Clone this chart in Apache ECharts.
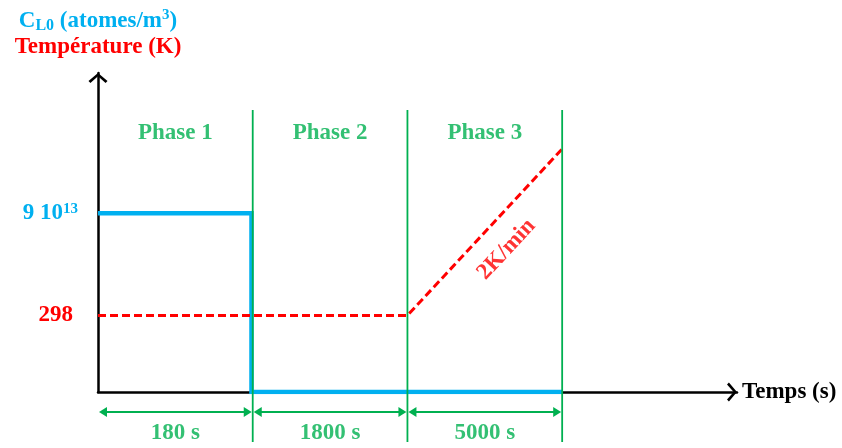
<!DOCTYPE html>
<html><head><meta charset="utf-8">
<script src="https://cdn.jsdelivr.net/npm/echarts@6/dist/echarts.min.js"></script>
<style>html,body{margin:0;padding:0;background:#fff}#c{width:842px;height:448px}</style>
</head><body><div id="c"></div>
<script>
// ---- data (schematic units) ----
const phaseNames = ['Phase 1', 'Phase 2', 'Phase 3'];
const phaseDurations = ['180 s', '1800 s', '5000 s'];
const phaseBounds = [0, 1, 2, 3];
const concentrationX = [0, 0.992, 0.992, 3];
const concentrationY = [5.6, 5.6, 0, 0];
const temperatureX = [0, 2, 3];
const temperatureY = [2.4, 2.4, 7.62];
const tickValues = [2.4, 5.6];
const tickLabels = ['298', '9 10|13'];
const rampLabel = '2K/min';
const rampLabelPoint = [2.64, 4.47];

// ---- styles / layout ----
const BLUE = '#00B0F0', RED = '#FF0000', GREEN = '#00B050';
const FF = '"Liberation Serif", "Times New Roman", serif';
const FS = 23;
const PHASE_Y = 8.12, DUR_Y = -1.29, ARROW_Y = -0.63, GUIDE_TOP = 8.84, GUIDE_BOT = -1.57;
const ARROW = 'path://M10,0 L20,8.5 L18,10.5 L10,3.5 L2,10.5 L0,8.5 Z';
const txt = (c, s) => ({color: c, fontSize: s, fontWeight: 'bold', fontFamily: FF});

const chart = echarts.init(document.getElementById('c'), null, {renderer: 'canvas'});
const axisLine = {show: true, onZero: false, symbol: ['none', ARROW], symbolSize: [19, 10], symbolOffset: [0, -5],
  lineStyle: {color: '#000', width: 2.5}};

const option = {
  animation: false,
  backgroundColor: '#fff',
  grid: {left: 98, top: 73, width: 639, height: 319},
  xAxis: {type: 'value', min: 0, max: 4.13, axisLine,
    axisTick: {show: false}, axisLabel: {show: false}, splitLine: {show: false},
    name: 'Temps (s)', nameLocation: 'end', nameGap: 5,
    nameTextStyle: Object.assign(txt('#000', FS), {verticalAlign: 'middle', align: 'left'})},
  yAxis: {type: 'value', min: 0, max: 10, axisLine,
    axisTick: {show: false}, splitLine: {show: false},
    axisLabel: {show: true, customValues: tickValues, margin: 20,
      formatter: function (v) {
        const i = tickValues.indexOf(v);
        const s = tickLabels[i];
        if (s.indexOf('|') >= 0) { const p = s.split('|'); return '{c|' + p[0] + '}{cs|' + p[1] + '}'; }
        return '{t|' + s + '}';
      },
      rich: {c: txt(BLUE, FS), cs: Object.assign(txt(BLUE, 15), {verticalAlign: 'top'}),
        t: Object.assign(txt(RED, FS), {padding: [0, 5, 0, 0]})}},
    name: '{c|C}{cb|L0}{c| (atomes/m}{ct|3}{c|)}\n{r|Température (K)}',
    nameLocation: 'end', nameGap: 13,
    nameTextStyle: {align: 'center', lineHeight: 26,
      rich: {c: Object.assign(txt(BLUE, FS), {lineHeight: 26}),
        cb: Object.assign(txt(BLUE, 16), {verticalAlign: 'bottom', lineHeight: 26}),
        ct: Object.assign(txt(BLUE, 15), {verticalAlign: 'top', lineHeight: 26}),
        r: Object.assign(txt(RED, FS), {lineHeight: 26})}}},
  series: [
    {type: 'line', name: 'CL0', symbol: 'none', z: 3,
      data: concentrationX.map((x, i) => [x, concentrationY[i]]),
      lineStyle: {color: BLUE, width: 4.5, join: 'miter'}},
    {type: 'line', name: 'T', symbol: 'none', z: 4,
      data: temperatureX.map((x, i) => [x, temperatureY[i]]),
      lineStyle: {color: RED, width: 3, type: [8, 4]}},
    {type: 'custom', z: 5, silent: true, clip: false,
      data: phaseBounds.slice(1),
      renderItem: function (p, api) {
        const a = api.coord([api.value(0), GUIDE_TOP]);
        const b = api.coord([api.value(0), GUIDE_BOT]);
        return {type: 'line', shape: {x1: a[0], y1: a[1], x2: b[0], y2: b[1]}, style: {stroke: GREEN, lineWidth: 1.8}};
      }},
    {type: 'custom', z: 5, silent: true, clip: false,
      data: phaseBounds.slice(0, -1).map((b, i) => [b, phaseBounds[i + 1]]),
      renderItem: function (p, api) {
        const a = api.coord([api.value(0), ARROW_Y]);
        const b = api.coord([api.value(1), ARROW_Y]);
        const L = 8, H = 5, x0 = a[0] + 1, x1 = b[0] - 1, y = a[1];
        return {type: 'group', children: [
          {type: 'line', shape: {x1: x0 + L - 1, y1: y, x2: x1 - L + 1, y2: y}, style: {stroke: GREEN, lineWidth: 2}},
          {type: 'polygon', shape: {points: [[x0, y], [x0 + L, y - H], [x0 + L, y + H]]}, style: {fill: GREEN}},
          {type: 'polygon', shape: {points: [[x1, y], [x1 - L, y - H], [x1 - L, y + H]]}, style: {fill: GREEN}}
        ]};
      }},
    {type: 'scatter', symbolSize: 0.1, clip: false, silent: true, itemStyle: {color: 'transparent'},
      data: phaseNames.map((n, i) => ({name: n, value: [(phaseBounds[i] + phaseBounds[i + 1]) / 2, PHASE_Y]})),
      label: Object.assign({show: true, position: 'inside', formatter: '{b}'}, txt(GREEN, FS))},
    {type: 'scatter', symbolSize: 0.1, clip: false, silent: true, itemStyle: {color: 'transparent'},
      data: phaseDurations.map((n, i) => ({name: n, value: [(phaseBounds[i] + phaseBounds[i + 1]) / 2, DUR_Y]})),
      label: Object.assign({show: true, position: 'inside', formatter: '{b}'}, txt(GREEN, FS))},
    {type: 'scatter', symbolSize: 0.1, clip: false, silent: true, itemStyle: {color: 'transparent'},
      data: [{name: rampLabel, value: rampLabelPoint}],
      label: Object.assign({show: true, position: 'inside', formatter: '{b}', rotate: 47}, txt(RED, FS))}
  ]
};
chart.setOption(option);
</script></body></html>
